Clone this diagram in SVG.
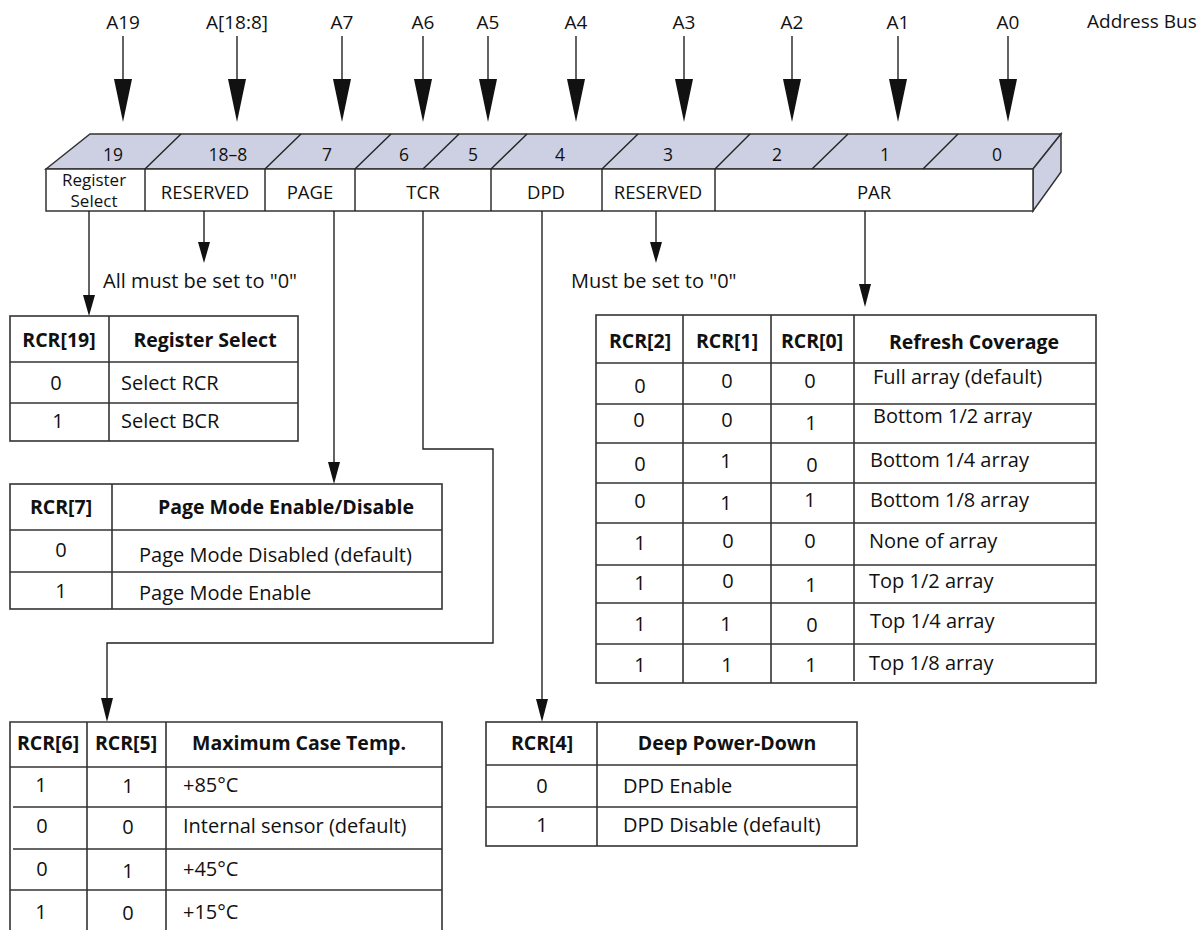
<svg xmlns="http://www.w3.org/2000/svg" width="1202" height="930" viewBox="0 0 1202 930">
<style>
.t{font-family:"Open Sans","Noto Sans","Liberation Sans",sans-serif;font-size:20px;fill:#111}
.b{font-weight:bold;font-size:19.5px}
.c{text-anchor:middle}
.a{font-size:19px}
.r{font-size:18.5px}
.rs{font-size:17px}
.n{font-size:17.5px}
.ln{stroke:#222;stroke-width:1.4;fill:none}
.tb{stroke:#333;stroke-width:1.6;fill:#fff}
.tl{stroke:#333;stroke-width:1.6;fill:none}
.ah{fill:#111;stroke:none}
.face{fill:#ccd0e2;stroke:#333;stroke-width:1.5}
.front{fill:#fff;stroke:#333;stroke-width:1.5}
</style>
<rect width="1202" height="930" fill="#fff"/>

<g id="address-bus">
  <text class="t a c" x="123" y="29">A19</text>
  <text class="t a c" x="237" y="29">A[18:8]</text>
  <text class="t a c" x="342" y="29">A7</text>
  <text class="t a c" x="423" y="29">A6</text>
  <text class="t a c" x="488" y="29">A5</text>
  <text class="t a c" x="576" y="29">A4</text>
  <text class="t a c" x="684" y="29">A3</text>
  <text class="t a c" x="792" y="29">A2</text>
  <text class="t a c" x="898" y="29">A1</text>
  <text class="t a c" x="1008" y="29">A0</text>
  <text class="t a" x="1087" y="28">Address Bus</text>
  <g class="ln">
    <line x1="123" y1="36" x2="123" y2="82"/>
    <line x1="237" y1="36" x2="237" y2="82"/>
    <line x1="342" y1="36" x2="342" y2="82"/>
    <line x1="423" y1="36" x2="423" y2="82"/>
    <line x1="488" y1="36" x2="488" y2="82"/>
    <line x1="576" y1="36" x2="576" y2="82"/>
    <line x1="684" y1="36" x2="684" y2="82"/>
    <line x1="792" y1="36" x2="792" y2="82"/>
    <line x1="898" y1="36" x2="898" y2="82"/>
    <line x1="1008" y1="36" x2="1008" y2="82"/>
  </g>
  <g class="ah">
    <polygon points="114,79 132,79 123,122"/>
    <polygon points="228,79 246,79 237,122"/>
    <polygon points="333,79 351,79 342,122"/>
    <polygon points="414,79 432,79 423,122"/>
    <polygon points="479,79 497,79 488,122"/>
    <polygon points="567,79 585,79 576,122"/>
    <polygon points="675,79 693,79 684,122"/>
    <polygon points="783,79 801,79 792,122"/>
    <polygon points="889,79 907,79 898,122"/>
    <polygon points="999,79 1017,79 1008,122"/>
  </g>
</g>

<g id="register">
  <polygon class="face" points="46,169 90,134 1061,134 1033,169"/>
  <polygon class="face" points="1033,169 1061,134 1061,172 1033,211"/>
  <rect class="front" x="46" y="169" width="987" height="42"/>
  <g class="ln" stroke-width="1.3">
    <line x1="145" y1="169" x2="181" y2="134"/>
    <line x1="265" y1="169" x2="301" y2="134"/>
    <line x1="355" y1="169" x2="391" y2="134"/>
    <line x1="423" y1="169" x2="459" y2="134"/>
    <line x1="491" y1="169" x2="527" y2="134"/>
    <line x1="602" y1="169" x2="638" y2="134"/>
    <line x1="715" y1="169" x2="750" y2="134"/>
    <line x1="812" y1="169" x2="848" y2="134"/>
    <line x1="923" y1="169" x2="958" y2="134"/>
    <line x1="145" y1="169" x2="145" y2="211"/>
    <line x1="265" y1="169" x2="265" y2="211"/>
    <line x1="355" y1="169" x2="355" y2="211"/>
    <line x1="491" y1="169" x2="491" y2="211"/>
    <line x1="602" y1="169" x2="602" y2="211"/>
    <line x1="715" y1="169" x2="715" y2="211"/>
  </g>
  <text class="t n c" x="113" y="161">19</text>
  <text class="t n c" x="228" y="161">18–8</text>
  <text class="t n c" x="327" y="161">7</text>
  <text class="t n c" x="404" y="161">6</text>
  <text class="t n c" x="473" y="161">5</text>
  <text class="t n c" x="560" y="161">4</text>
  <text class="t n c" x="668" y="161">3</text>
  <text class="t n c" x="777" y="161">2</text>
  <text class="t n c" x="885" y="161">1</text>
  <text class="t n c" x="997" y="161">0</text>
  <text class="t rs c" x="94" y="186">Register</text>
  <text class="t rs c" x="94" y="207">Select</text>
  <text class="t r c" x="205" y="199">RESERVED</text>
  <text class="t r c" x="310" y="199">PAGE</text>
  <text class="t r c" x="423" y="199">TCR</text>
  <text class="t r c" x="546" y="199">DPD</text>
  <text class="t r c" x="658" y="199">RESERVED</text>
  <text class="t r c" x="874" y="199">PAR</text>
</g>

<g id="connectors">
  <g class="ln">
    <line x1="89" y1="211" x2="89" y2="298"/>
    <line x1="204" y1="211" x2="204" y2="245"/>
    <line x1="334" y1="211" x2="334" y2="465"/>
    <polyline points="423,211 423,449 493,449 493,643 107,643 107,700"/>
    <line x1="542" y1="211" x2="542" y2="702"/>
    <line x1="656" y1="211" x2="656" y2="245"/>
    <line x1="865" y1="211" x2="865" y2="286"/>
  </g>
  <g class="ah">
    <polygon points="83,295 95,295 89,316"/>
    <polygon points="198,242 210,242 204,263"/>
    <polygon points="328,462 340,462 334,484"/>
    <polygon points="101,698 113,698 107,722"/>
    <polygon points="536,699 548,699 542,722"/>
    <polygon points="650,242 662,242 656,263"/>
    <polygon points="859,284 871,284 865,307"/>
  </g>
  <text class="t" x="103" y="288">All must be set to "0"</text>
  <text class="t" x="571" y="288">Must be set to "0"</text>
</g>

<g id="table-register-select">
  <rect class="tb" x="10" y="316" width="288" height="125"/>
  <g class="tl">
    <line x1="10" y1="362" x2="298" y2="362"/>
    <line x1="10" y1="403" x2="298" y2="403"/>
    <line x1="109" y1="316" x2="109" y2="441"/>
  </g>
  <text class="t b c" x="59" y="347">RCR[19]</text>
  <text class="t b c" x="205" y="347">Register Select</text>
  <text class="t c" x="56" y="390">0</text>
  <text class="t" x="121" y="390">Select RCR</text>
  <text class="t c" x="58" y="428">1</text>
  <text class="t" x="121" y="428">Select BCR</text>
</g>

<g id="table-page-mode">
  <rect class="tb" x="10" y="484" width="432" height="125"/>
  <g class="tl">
    <line x1="10" y1="530" x2="442" y2="530"/>
    <line x1="10" y1="572" x2="442" y2="572"/>
    <line x1="112" y1="484" x2="112" y2="609"/>
  </g>
  <text class="t b c" x="61" y="514">RCR[7]</text>
  <text class="t b c" x="286" y="514">Page Mode Enable/Disable</text>
  <text class="t c" x="61" y="557">0</text>
  <text class="t" x="139" y="562">Page Mode Disabled (default)</text>
  <text class="t c" x="61" y="598">1</text>
  <text class="t" x="139" y="600">Page Mode Enable</text>
</g>

<g id="table-case-temp">
  <g class="tl">
    <polyline points="10,931 10,722 442,722 442,931"/>
    <line x1="10" y1="767" x2="442" y2="767"/>
    <line x1="13" y1="807" x2="442" y2="807"/>
    <line x1="13" y1="849" x2="442" y2="849"/>
    <line x1="10" y1="890" x2="442" y2="890"/>
    <line x1="87" y1="722" x2="87" y2="931"/>
    <line x1="166" y1="722" x2="166" y2="931"/>
  </g>
  <text class="t b c" x="48" y="750">RCR[6]</text>
  <text class="t b c" x="126" y="750">RCR[5]</text>
  <text class="t b c" x="299" y="750">Maximum Case Temp.</text>
  <text class="t c" x="41" y="792">1</text>
  <text class="t c" x="128" y="793">1</text>
  <text class="t" x="183" y="792">+85°C</text>
  <text class="t c" x="42" y="833">0</text>
  <text class="t c" x="128" y="834">0</text>
  <text class="t" x="183" y="833">Internal sensor (default)</text>
  <text class="t c" x="42" y="876">0</text>
  <text class="t c" x="128" y="878">1</text>
  <text class="t" x="183" y="876">+45°C</text>
  <text class="t c" x="41" y="919">1</text>
  <text class="t c" x="128" y="920">0</text>
  <text class="t" x="183" y="919">+15°C</text>
</g>

<g id="table-deep-power-down">
  <rect class="tb" x="486" y="722" width="371" height="124"/>
  <g class="tl">
    <line x1="486" y1="765" x2="857" y2="765"/>
    <line x1="486" y1="807" x2="857" y2="807"/>
    <line x1="597" y1="722" x2="597" y2="846"/>
  </g>
  <text class="t b c" x="542" y="750">RCR[4]</text>
  <text class="t b c" x="727" y="750">Deep Power-Down</text>
  <text class="t c" x="542" y="793">0</text>
  <text class="t" x="623" y="793">DPD Enable</text>
  <text class="t c" x="542" y="832">1</text>
  <text class="t" x="623" y="832">DPD Disable (default)</text>
</g>

<g id="table-refresh-coverage">
  <rect class="tb" x="596" y="315" width="500" height="368"/>
  <g class="tl">
    <line x1="596" y1="363" x2="1096" y2="363"/>
    <line x1="596" y1="404" x2="1096" y2="404"/>
    <line x1="596" y1="443" x2="1096" y2="443"/>
    <line x1="596" y1="483" x2="1096" y2="483"/>
    <line x1="596" y1="523" x2="1096" y2="523"/>
    <line x1="596" y1="565" x2="1096" y2="565"/>
    <line x1="596" y1="603" x2="1096" y2="603"/>
    <line x1="596" y1="644" x2="1096" y2="644"/>
    <line x1="683" y1="315" x2="683" y2="683"/>
    <line x1="771" y1="315" x2="771" y2="683"/>
    <line x1="854" y1="315" x2="854" y2="681"/>
  </g>
  <text class="t b c" x="640" y="348">RCR[2]</text>
  <text class="t b c" x="727" y="348">RCR[1]</text>
  <text class="t b c" x="812" y="348">RCR[0]</text>
  <text class="t b c" x="974" y="349">Refresh Coverage</text>

  <text class="t c" x="640" y="393">0</text><text class="t c" x="727" y="388">0</text><text class="t c" x="810" y="388">0</text>
  <text class="t" x="873" y="384">Full array (default)</text>
  <text class="t c" x="639" y="427">0</text><text class="t c" x="727" y="427">0</text><text class="t c" x="811" y="430">1</text>
  <text class="t" x="873" y="423">Bottom 1/2 array</text>
  <text class="t c" x="640" y="471">0</text><text class="t c" x="726" y="468">1</text><text class="t c" x="812" y="472">0</text>
  <text class="t" x="870" y="467">Bottom 1/4 array</text>
  <text class="t c" x="640" y="508">0</text><text class="t c" x="726" y="510">1</text><text class="t c" x="810" y="507">1</text>
  <text class="t" x="870" y="507">Bottom 1/8 array</text>
  <text class="t c" x="640" y="550">1</text><text class="t c" x="728" y="548">0</text><text class="t c" x="810" y="548">0</text>
  <text class="t" x="869" y="548">None of array</text>
  <text class="t c" x="640" y="590">1</text><text class="t c" x="728" y="588">0</text><text class="t c" x="811" y="592">1</text>
  <text class="t" x="869" y="588">Top 1/2 array</text>
  <text class="t c" x="640" y="631">1</text><text class="t c" x="726" y="631">1</text><text class="t c" x="812" y="632">0</text>
  <text class="t" x="870" y="628">Top 1/4 array</text>
  <text class="t c" x="640" y="672">1</text><text class="t c" x="727" y="672">1</text><text class="t c" x="811" y="672">1</text>
  <text class="t" x="869" y="670">Top 1/8 array</text>
</g>
</svg>
